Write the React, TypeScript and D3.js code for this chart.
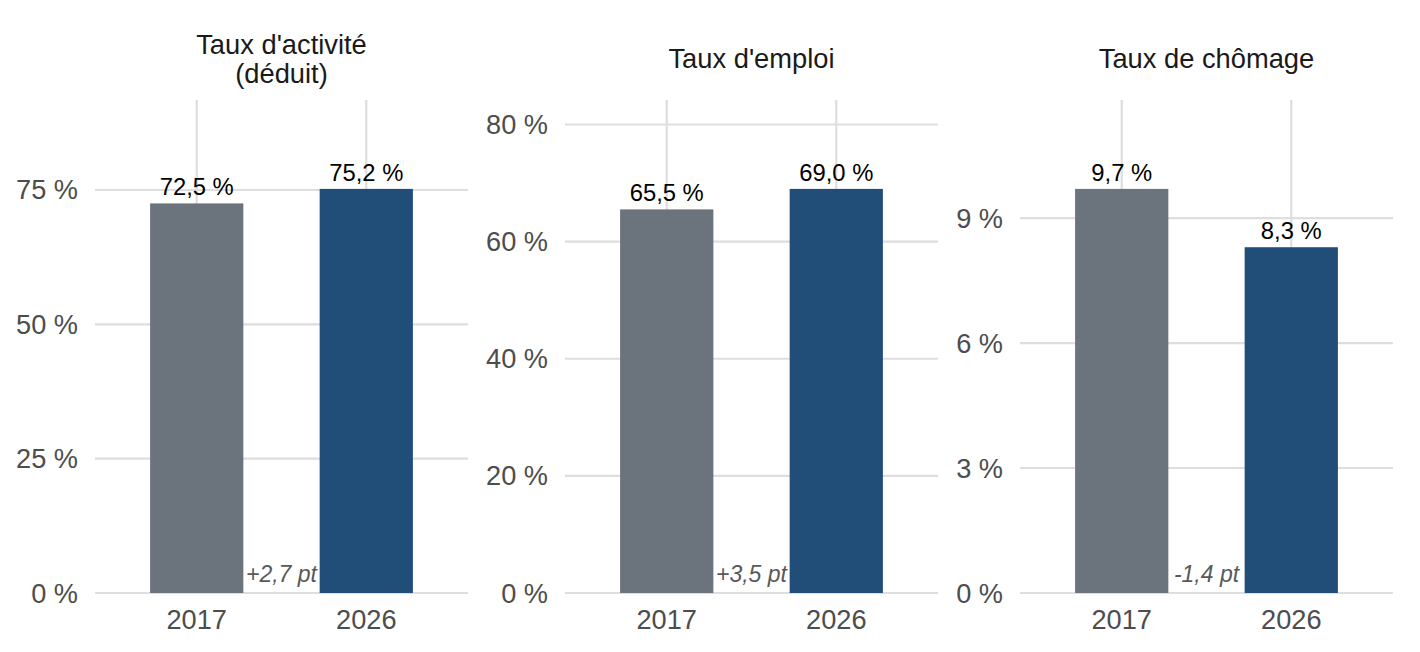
import React from 'react'
import * as d3 from 'd3'

const years = ['2017', '2026']
const titles = [["Taux d'activité", '(déduit)'], ["Taux d'emploi"], ['Taux de chômage']]
const tauxActivite = [72.5, 75.2]
const tauxEmploi = [65.5, 69.0]
const tauxChomage = [9.7, 8.3]
const ticksActivite = [0, 25, 50, 75]
const ticksEmploi = [0, 20, 40, 60, 80]
const ticksChomage = [0, 3, 6, 9]

const W = 1420
const H = 652
const plotTop = 100
const plotBottom = 593
const plotWidth = 373
const panelLefts = [95, 565, 1020]
const barColors = ['#6b737c', '#204e78']
const font = '"Liberation Sans", Arial, sans-serif'

const fmt = (v: number) => v.toFixed(1).replace('.', ',')

interface IPanel {
	left: number
	title: string[]
	values: number[]
	ticks: number[]
}

const Panel = ({ left, title, values, ticks }: IPanel) => {
	// discrete axis like ggplot: 0.6 units of expansion on each side
	const x = d3
		.scalePoint()
		.domain(years)
		.range([left, left + plotWidth])
		.padding(0.6)
	const bw = x.step() * 0.55
	const ymax = (d3.max(values) as number) * 1.22
	const y = d3.scaleLinear().domain([0, ymax]).range([plotBottom, plotTop])
	const centers = years.map(yr => x(yr) as number)
	const mid = left + plotWidth / 2
	const delta = values[1] - values[0]
	const deltaLabel = (delta >= 0 ? '+' : '-') + fmt(Math.abs(delta)) + ' pt'
	const titleBase = title.length === 1 ? 68 : 54

	return (
		<g>
			{ticks.map(t => (
				<line
					key={'h' + t}
					x1={left}
					x2={left + plotWidth}
					y1={y(t)}
					y2={y(t)}
					stroke="#dedede"
					strokeWidth={2.2}
				/>
			))}
			{centers.map((c, i) => (
				<line key={'v' + i} x1={c} x2={c} y1={plotTop} y2={plotBottom} stroke="#dedede" strokeWidth={2.2} />
			))}
			{years.map((yr, i) => (
				<rect
					key={yr}
					x={centers[i] - bw / 2}
					y={y(values[i])}
					width={bw}
					height={plotBottom - y(values[i])}
					fill={barColors[i]}
				/>
			))}
			{years.map((yr, i) => (
				<text
					key={'l' + yr}
					x={centers[i]}
					y={y(values[i]) - 8}
					textAnchor="middle"
					fontSize={23.8}
					fill="#000"
				>
					{fmt(values[i]) + ' %'}
				</text>
			))}
			{ticks.map(t => (
				<text
					key={'t' + t}
					x={left - 17}
					y={y(t) + 9.5}
					textAnchor="end"
					fontSize={27.2}
					fill="#4d4d4d"
				>
					{t + ' %'}
				</text>
			))}
			{years.map((yr, i) => (
				<text key={'x' + yr} x={centers[i]} y={629} textAnchor="middle" fontSize={27.2} fill="#4d4d4d">
					{yr}
				</text>
			))}
			<text x={mid} y={582} textAnchor="middle" fontSize={23} fontStyle="italic" fill="#595959">
				{deltaLabel}
			</text>
			{title.map((line, i) => (
				<text key={'ti' + i} x={mid} y={titleBase + i * 29} textAnchor="middle" fontSize={27.3} fill="#1a1a1a">
					{line}
				</text>
			))}
		</g>
	)
}

const App = () => {
	const series = [tauxActivite, tauxEmploi, tauxChomage]
	const tickSets = [ticksActivite, ticksEmploi, ticksChomage]
	return (
		<svg
			width={W}
			height={H}
			style={{ position: 'absolute', left: 0, top: 0, background: '#fff', fontFamily: font }}
		>
			{series.map((vals, i) => (
				<Panel key={i} left={panelLefts[i]} title={titles[i]} values={vals} ticks={tickSets[i]} />
			))}
		</svg>
	)
}

export default App
